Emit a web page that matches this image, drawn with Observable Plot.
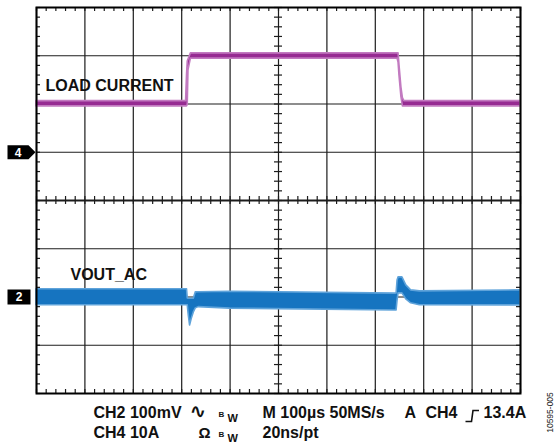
<!DOCTYPE html>
<html>
<head>
<meta charset="utf-8">
<script src="https://cdn.jsdelivr.net/npm/d3@7"></script>
<script src="https://cdn.jsdelivr.net/npm/@observablehq/plot@0.6"></script>
<style>
  html, body { margin: 0; padding: 0; background: #fff; }
  #chart svg { display: block; }
</style>
</head>
<body>
<div id="chart"></div>
<script>
// ---- Data (read from the scope capture) ----
// Time axis: µs (M 100µs/div, 10 divisions)
const timeGrid = [0, 100, 200, 300, 400, 500, 600, 700, 800, 900, 1000];
// Vertical divisions (8 divisions, centre = 0)
const divGrid = [-4, -3, -2, -1, 0, 1, 2, 3, 4];

// CH4 load current (A), 10 A/div, ground marker at +1 div
const curT  = [0,   309, 311, 312.5, 314, 319,  746,  748,  750,  754,  757,  760,  1000];
const curLo = [9.5, 9.5, 9.5, 9.8,   17,  19.4, 19.4, 18.6, 15.8, 11.4, 9.5,  9.5,  9.5];
const curHi = [10.6,10.6,16,  18.8,  19.2,20.5, 20.5, 20.5, 18,   13.4, 11.2, 10.6, 10.6];

// CH2 output voltage, AC coupled (mV), 100 mV/div, ground marker at -2 div
const voutT  = [0,   311, 312.5, 314.6, 317.3, 320.8, 325, 329,   335, 400, 742, 744,   746, 748, 756, 764, 774,   792, 1000];
const voutLo = [-17, -17, -17.4, -38,   -59,   -45,   -32, -23.6, -21, -24, -28, -27.7, -7,  7.5, 7.5, -5,  -13,   -17, -17.4];
const voutHi = [16,  16,  -3,    -3.5,  -3.5,  -3.5,  -3.5, 9.5,  10,  11,  7,   7.5,   34,  40.6,40.6,24,  13.7,  11.6, 13.7];

// Channel markers
const channelLabels = ["4", "2"];
const channelLevels = [1, -2];

// Annotation texts
const traceNames = ["LOAD CURRENT", "VOUT_AC"];
const row1 = ["CH2 100mV", "\u223F", "B", "W", "M 100\u00B5s 50MS/s", "A", "CH4", "13.4A"];
const row2 = ["CH4 10A", "\u03A9", "B", "W", "20ns/pt"];
const figId = "10595-005";

// ---- Helpers ----
const curDiv = (a) => 1 + a / 10;     // amps -> divisions
const voutDiv = (mv) => -2 + mv / 100; // mV -> divisions

const minorT = d3.range(0, 1000.001, 20);
const minorY = d3.range(-4, 4.0001, 0.2);
const tl = 0.083;   // tick length in divisions (~4px)
const tlx = 8.3;    // tick length in µs (~4px)

const FONT = "'Liberation Sans', Arial, Helvetica, sans-serif";
const txt = (s, dx, dy, o = {}) =>
  Plot.text([s], {
    text: d => d, frameAnchor: "bottom-left", dx, dy,
    textAnchor: "start", lineAnchor: "bottom",
    fontSize: 16, fontWeight: "bold", fill: "#111", ...o
  });

const tagSymbol = {
  draw(ctx) {
    ctx.moveTo(-10.5, -7); ctx.lineTo(10.5, -7); ctx.lineTo(17.5, 0);
    ctx.lineTo(10.5, 7); ctx.lineTo(-10.5, 7); ctx.closePath();
  }
};
const boxSymbol = {
  draw(ctx) {
    ctx.moveTo(-11.5, -7.5); ctx.lineTo(11.5, -7.5); ctx.lineTo(11.5, 7.5);
    ctx.lineTo(-11.5, 7.5); ctx.closePath();
  }
};
// rising-edge trigger glyph
const edgeSymbol = {
  draw(ctx) {
    ctx.moveTo(-7, 5.5); ctx.lineTo(-1, 5.5); ctx.lineTo(0.5, -5.5); ctx.lineTo(6.5, -5.5);
  }
};

const curIdx = d3.range(curT.length);
const voutIdx = d3.range(voutT.length);

const GRID = "#1c1c1c";

const chart = Plot.plot({
  width: 555,
  height: 445,
  marginLeft: 36,
  marginRight: 35,
  marginTop: 7,
  marginBottom: 52,
  x: { domain: [0, 1000], axis: null },
  y: { domain: [-4, 4], axis: null },
  style: { fontFamily: FONT, background: "#fff", overflow: "visible" },
  marks: [
    // grid
    Plot.ruleX(timeGrid, { stroke: GRID, strokeWidth: 1.2 }),
    Plot.ruleY(divGrid, { stroke: GRID, strokeWidth: 1.2 }),
    Plot.ruleY([0], { stroke: GRID, strokeWidth: 1.8 }),
    // minor ticks: top, bottom, centre horizontal
    Plot.ruleX(minorT, { y1: 4, y2: 4 - tl, stroke: GRID, strokeWidth: 1.2 }),
    Plot.ruleX(minorT, { y1: -4, y2: -4 + tl, stroke: GRID, strokeWidth: 1.2 }),
    Plot.ruleX(minorT, { y1: -tl, y2: tl, stroke: GRID, strokeWidth: 1.2 }),
    // minor ticks: left, right, centre vertical
    Plot.ruleY(minorY, { x1: 0, x2: tlx, stroke: GRID, strokeWidth: 1.2 }),
    Plot.ruleY(minorY, { x1: 1000 - tlx, x2: 1000, stroke: GRID, strokeWidth: 1.2 }),
    Plot.ruleY(minorY, { x1: 500 - tlx, x2: 500 + tlx, stroke: GRID, strokeWidth: 1.2 }),

    // CH4 load current trace
    Plot.areaY(curIdx, {
      x: i => curT[i], y1: i => curDiv(curLo[i]), y2: i => curDiv(curHi[i]),
      fill: "#962b92", stroke: "#c27ac0", strokeWidth: 1.6, curve: "linear"
    }),
    // CH2 output voltage trace
    Plot.areaY(voutIdx, {
      x: i => voutT[i], y1: i => voutDiv(voutLo[i]), y2: i => voutDiv(voutHi[i]),
      fill: "#1674c0", stroke: "#5fa3da", strokeWidth: 1.6, curve: "linear"
    }),

    Plot.frame({ stroke: "#000", strokeWidth: 2 }),

    // trace names
    Plot.text([traceNames[0]], { text: d => d, frameAnchor: "top-left", dx: 9, dy: 83.7,
      textAnchor: "start", lineAnchor: "bottom", fontSize: 16, fontWeight: "bold", fill: "#111" }),
    Plot.text([traceNames[1]], { text: d => d, frameAnchor: "top-left", dx: 34, dy: 272.3,
      textAnchor: "start", lineAnchor: "bottom", fontSize: 16, fontWeight: "bold", fill: "#111" }),

    // channel markers
    Plot.dot([0], { x: 0, y: channelLevels[0], dx: -18.5, symbol: tagSymbol, fill: "#000", stroke: "none", r: 5 }),
    Plot.dot([0], { x: 0, y: channelLevels[1], dx: -17.5, symbol: boxSymbol, fill: "#000", stroke: "none", r: 5 }),
    Plot.text([channelLabels[0]], { text: d => d, x: 0, y: channelLevels[0], dx: -18.5, dy: 0.5,
      fill: "#fff", fontSize: 12, fontWeight: "bold" }),
    Plot.text([channelLabels[1]], { text: d => d, x: 0, y: channelLevels[1], dx: -17.5, dy: 0,
      fill: "#fff", fontSize: 12, fontWeight: "bold" }),

    // bottom status line, row 1
    txt(row1[0], 57, 24),
    txt(row1[1], 153, 24, { fontFamily: "'DejaVu Sans', sans-serif", fontSize: 20 }),
    txt(row1[2], 182, 23, { fontSize: 8 }),
    txt(row1[3], 191, 28.7, { fontSize: 11 }),
    txt(row1[4], 226, 24),
    txt(row1[5], 368, 24),
    txt(row1[6], 389, 24),
    Plot.dot([0], { x: 0, y: -4, dx: 436, dy: 22.5, symbol: edgeSymbol, fill: "none",
      stroke: "#111", strokeWidth: 1.6, r: 5 }),
    txt(row1[7], 447, 24),
    // row 2
    txt(row2[0], 57, 44),
    txt(row2[1], 162, 44, { fontSize: 15 }),
    txt(row2[2], 182, 43.3, { fontSize: 8 }),
    txt(row2[3], 191, 48.5, { fontSize: 11 }),
    txt(row2[4], 226, 44),

    // figure id, rotated
    Plot.text([figId], { text: d => d, frameAnchor: "bottom-right", dx: 29.7, dy: 19,
      rotate: -90, textAnchor: "middle", lineAnchor: "middle",
      fontSize: 8.5, fill: "#222", fontFamily: FONT })
  ]
});

document.getElementById("chart").appendChild(chart);
</script>
</body>
</html>
